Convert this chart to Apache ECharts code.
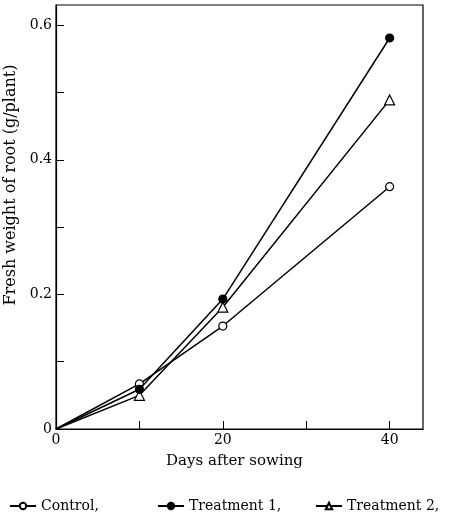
<!DOCTYPE html>
<html><head><meta charset="utf-8">
<script src="https://cdn.jsdelivr.net/npm/echarts@6/dist/echarts.min.js"></script>
<style>html,body{margin:0;padding:0;background:#fff}#c{width:450px;height:520px}</style>
</head><body><div id="c"></div>
<script>
const days = [0, 10, 20, 40];
const control = [0, 0.067, 0.153, 0.360];
const treatment1 = [0, 0.059, 0.193, 0.581];
const treatment2 = [0, 0.050, 0.181, 0.489];
const seriesNames = ['Control', 'Treatment 1', 'Treatment 2'];
const xTickLabels = ['0', '20', '40'];
const yTickLabels = ['0', '0.2', '0.4', '0.6'];

const font = 'DejaVu Serif';
const chart = echarts.init(document.getElementById('c'));
const pairs = a => days.map((d, i) => i === 0 ? { value: [d, a[i]], symbol: 'none' } : [d, a[i]]);
const mk = (name, data, symbol, fill) => ({
  name, type: 'line', data: pairs(data), symbol, symbolSize: symbol === 'triangle' ? 10 : 8,
  lineStyle: { color: '#000', width: 1.5 },
  itemStyle: { color: fill, borderColor: '#000', borderWidth: 1.2 },
  emphasis: { disabled: true }, animation: false, z: symbol === 'circle' && fill === '#000' ? 3 : 2
});
const legendBase = (name, left) => ({
  data: [name], left, top: 494, itemWidth: 26, itemHeight: 8, itemGap: 0,
  formatter: n => n + ',',
  textStyle: { fontFamily: font, fontSize: 14, color: '#000' }
});
chart.setOption({
  animation: false,
  grid: { left: 56, right: 27, top: 5, bottom: 91, show: true, borderColor: '#000', borderWidth: 1.2,
    containLabel: false, outerBoundsMode: 'none' },
  legend: [legendBase(seriesNames[0], 4), legendBase(seriesNames[1], 152), legendBase(seriesNames[2], 310)],
  xAxis: {
    type: 'value', min: 0, max: 44, interval: 10,
    name: 'Days after sowing', nameLocation: 'middle', nameGap: 25,
    nameTextStyle: { fontFamily: font, fontSize: 15, color: '#000', padding: [0, 10, 0, 0] },
    axisLine: { lineStyle: { color: '#000', width: 1.2 } },
    axisTick: { inside: true, length: 8, lineStyle: { color: '#000' } },
    splitLine: { show: false },
    axisLabel: { fontFamily: font, fontSize: 14, color: '#000', margin: 4, showMaxLabel: false,
      formatter: v => xTickLabels.includes(String(v)) ? String(v) : '' }
  },
  yAxis: {
    type: 'value', min: 0, max: 0.63, interval: 0.1,
    name: 'Fresh weight of root (g/plant)', nameLocation: 'middle', nameGap: 33,
    nameTextStyle: { fontFamily: font, fontSize: 16, color: '#000', padding: [0, 0, 0, 64] },
    axisLine: { lineStyle: { color: '#000', width: 1.2 } },
    axisTick: { inside: true, length: 8, lineStyle: { color: '#000' } },
    splitLine: { show: false },
    axisLabel: { fontFamily: font, fontSize: 14, color: '#000', margin: 4, showMaxLabel: false,
      formatter: v => { const s = v === 0 ? '0' : v.toFixed(1); return yTickLabels.includes(s) ? s : ''; } }
  },
  series: [
    mk(seriesNames[0], control, 'circle', '#fff'),
    mk(seriesNames[1], treatment1, 'circle', '#000'),
    mk(seriesNames[2], treatment2, 'triangle', '#fff')
  ]
});
</script></body></html>
